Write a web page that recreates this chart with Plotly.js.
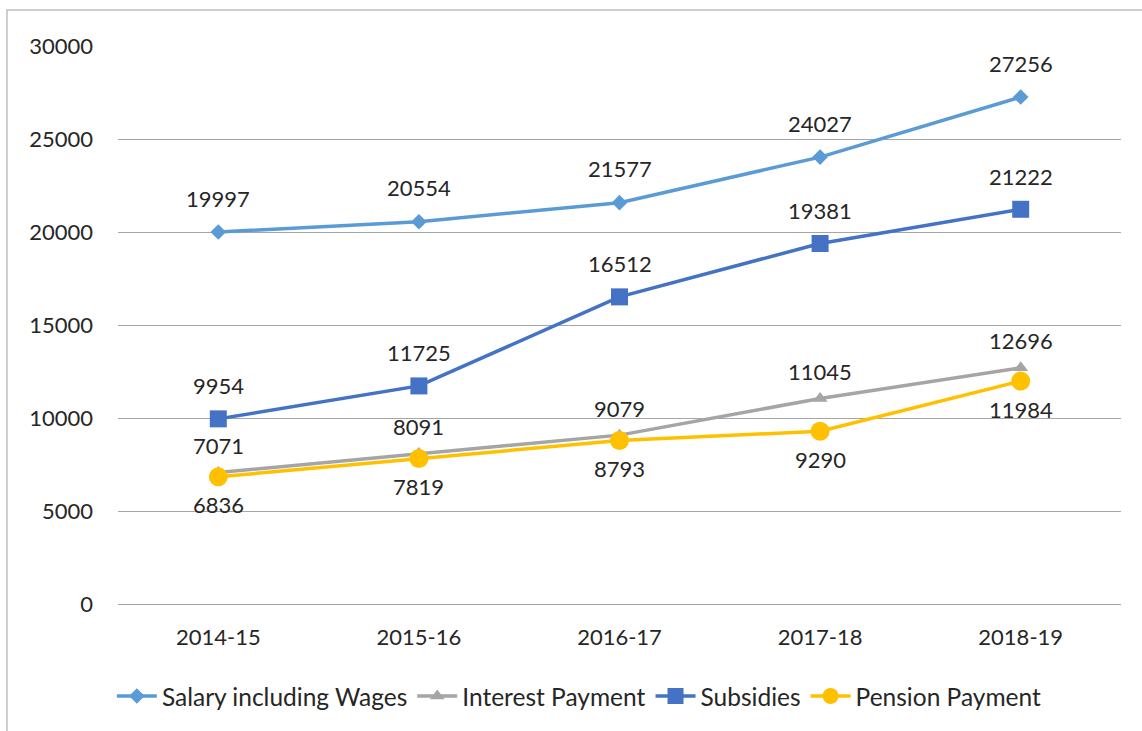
<!DOCTYPE html>
<html>
<head>
<meta charset="utf-8">
<script src="https://cdn.plot.ly/plotly-3.0.1.min.js"></script>
<style>html,body{margin:0;padding:0;background:#fff;}#chart{width:1142px;height:731px;}</style>
</head>
<body>
<div id="chart"></div>
<script>
const years = ["2014-15", "2015-16", "2016-17", "2017-18", "2018-19"];
const salary = [19997, 20554, 21577, 24027, 27256];
const interest = [7071, 8091, 9079, 11045, 12696];
const subsidies = [9954, 11725, 16512, 19381, 21222];
const pension = [6836, 7819, 8793, 9290, 11984];
const yTicks = [0, 5000, 10000, 15000, 20000, 25000, 30000];

const FONT = "Lato, 'Open Sans', sans-serif";
const TXT = "#262626";

const series = [
  {name: "Salary including Wages", y: salary, color: "#5B9BD5", symbol: "diamond", size: 12, shift: 34},
  {name: "Interest Payment", y: interest, color: "#A5A5A5", symbol: "triangle-up", size: 13, shift: 27},
  {name: "Subsidies", y: subsidies, color: "#4472C4", symbol: "square", size: 17, shift: 33},
  {name: "Pension Payment", y: pension, color: "#FFC000", symbol: "circle", size: 19, shift: -28}
];

const traces = series.map(s => ({
  type: "scatter", mode: "lines+markers", name: s.name, x: years, y: s.y,
  line: {color: s.color, width: 3.5},
  marker: {color: s.color, symbol: s.symbol, size: s.size},
  hoverinfo: "x+y+name"
}));

const annotations = [];
series.forEach(s => {
  s.y.forEach((v, i) => {
    annotations.push({x: years[i], y: v, xref: "x", yref: "y", text: String(v),
      showarrow: false, yshift: s.shift, font: {family: FONT, size: 22, color: TXT}});
  });
});

const layout = {
  width: 1142, height: 731,
  margin: {l: 118, r: 21, t: 46, b: 127},
  paper_bgcolor: "#ffffff", plot_bgcolor: "#ffffff",
  font: {family: FONT, size: 22, color: TXT},
  showlegend: true,
  legend: {orientation: "h", x: 0.46, xanchor: "center", y: -0.165, yanchor: "middle",
    font: {family: FONT, size: 24.5, color: TXT}, itemwidth: 40, tracegroupgap: 0},
  xaxis: {type: "category", range: [-0.5, 4.5], showgrid: false, zeroline: false,
    showline: false, ticks: "", ticklabelstandoff: 18, tickfont: {family: FONT, size: 22, color: TXT}, fixedrange: true},
  yaxis: {range: [0, 30000], tickvals: yTicks, ticktext: yTicks.map(String), showgrid: true,
    gridcolor: "#A6A6A6", gridwidth: 1, zeroline: true, zerolinecolor: "#A6A6A6", zerolinewidth: 1,
    showline: false, ticks: "", ticklabelstandoff: 24, tickfont: {family: FONT, size: 22, color: TXT}, fixedrange: true},
  annotations: annotations,
  shapes: [{type: "rect", xref: "paper", yref: "paper", x0: -0.1107, x1: 1.03, y0: -0.25, y1: 1.0645,
    line: {color: "#BFBFBF", width: 1.5}, fillcolor: "rgba(0,0,0,0)", layer: "below"}]
};

Plotly.newPlot("chart", traces, layout, {displayModeBar: false, staticPlot: true});
</script>
</body>
</html>
